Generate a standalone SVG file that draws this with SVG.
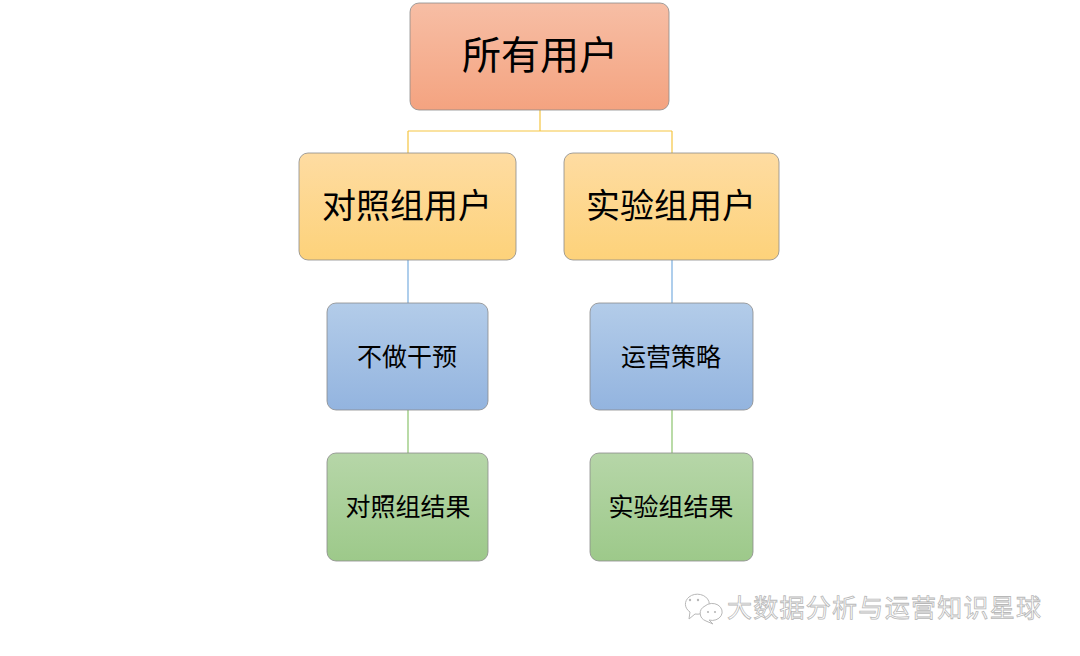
<svg xmlns="http://www.w3.org/2000/svg" width="1080" height="656" viewBox="0 0 1080 656">
<defs>
<linearGradient id="gRed" x1="0" y1="0" x2="0" y2="1"><stop offset="0" stop-color="#f7bea5"/><stop offset="1" stop-color="#f4a380"/></linearGradient>
<linearGradient id="gYel" x1="0" y1="0" x2="0" y2="1"><stop offset="0" stop-color="#fedca2"/><stop offset="1" stop-color="#fdd27a"/></linearGradient>
<linearGradient id="gBlu" x1="0" y1="0" x2="0" y2="1"><stop offset="0" stop-color="#b3cce9"/><stop offset="1" stop-color="#93b4df"/></linearGradient>
<linearGradient id="gGrn" x1="0" y1="0" x2="0" y2="1"><stop offset="0" stop-color="#b6d6a8"/><stop offset="1" stop-color="#9dc98a"/></linearGradient>
</defs>
<style>
.box{stroke:#8a8a8a;stroke-width:0.8;}
.t{font-family:"Microsoft YaHei","Noto Sans CJK SC",sans-serif;fill:#000;text-anchor:middle;}
.c{fill:none;stroke-width:1.2;}
.wm{font-family:"Noto Sans CJK SC",sans-serif;font-size:25px;fill:#ffffff;stroke:#b8b8b8;stroke-width:0.8;}
</style>
<rect width="1080" height="656" fill="#ffffff"/>
<g id="connectors">
<path class="c" stroke="#f5c542" d="M540 110 V131 M408 131 H672 M408 131 V153 M672 131 V153"/>
<path class="c" stroke="#7aaee0" d="M408 260 V303 M672 260 V303"/>
<path class="c" stroke="#8cc46e" d="M408 410 V453 M672 410 V453"/>
</g>
<g id="node-all">
<rect class="box" x="410" y="3" width="259" height="107" rx="9" fill="url(#gRed)"/>
<text class="t" x="540" y="69" font-size="39">所有用户</text>
</g>
<g id="node-control">
<rect class="box" x="299" y="153" width="217" height="107" rx="9" fill="url(#gYel)"/>
<text class="t" x="407" y="218" font-size="34">对照组用户</text>
</g>
<g id="node-test">
<rect class="box" x="564" y="153" width="215" height="107" rx="9" fill="url(#gYel)"/>
<text class="t" x="671" y="218" font-size="34">实验组用户</text>
</g>
<g id="node-nointervene">
<rect class="box" x="327" y="303" width="161" height="107" rx="9" fill="url(#gBlu)"/>
<text class="t" x="407" y="366" font-size="25">不做干预</text>
</g>
<g id="node-strategy">
<rect class="box" x="590" y="303" width="163" height="107" rx="9" fill="url(#gBlu)"/>
<text class="t" x="671" y="366" font-size="25">运营策略</text>
</g>
<g id="node-control-result">
<rect class="box" x="327" y="453" width="161" height="108" rx="9" fill="url(#gGrn)"/>
<text class="t" x="408" y="516" font-size="25">对照组结果</text>
</g>
<g id="node-test-result">
<rect class="box" x="590" y="453" width="163" height="108" rx="9" fill="url(#gGrn)"/>
<text class="t" x="671" y="516" font-size="25">实验组结果</text>
</g>
<g id="watermark">
<path d="M689 597 a12 10 0 1 1 6 17 l-6 5 l1 -7 a12 10 0 0 1 -1 -15 z" fill="#ffffff" stroke="#b8b8b8" stroke-width="1"/>
<path d="M705 606 a10 8.5 0 1 1 4 14 l4 4 l-7 -3 a10 8.5 0 0 1 -1 -15 z" fill="#ffffff" stroke="#b8b8b8" stroke-width="1"/>
<circle cx="690" cy="600" r="1.2" fill="#b8b8b8"/><circle cx="698" cy="600" r="1.2" fill="#b8b8b8"/>
<circle cx="708" cy="612" r="1.1" fill="#b8b8b8"/><circle cx="715" cy="612" r="1.1" fill="#b8b8b8"/>
<text class="wm" x="727" y="617" textLength="314">大数据分析与运营知识星球</text>
</g>
</svg>
